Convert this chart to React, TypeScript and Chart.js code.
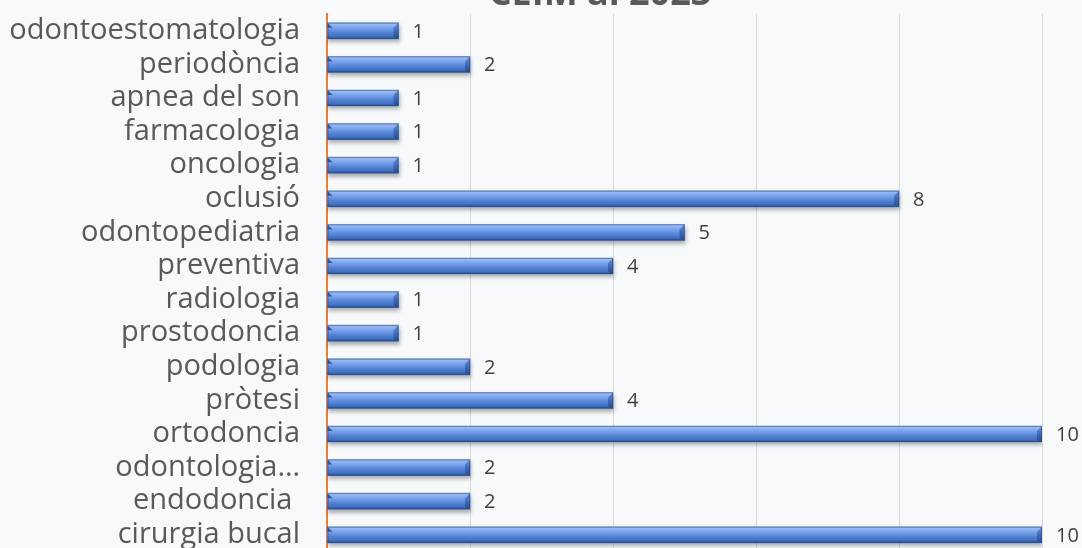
import React, { useEffect, useRef } from "react";
import { Chart, registerables } from "chart.js";

Chart.register(...registerables);

const TITLE = "CEIM al 2023";
const categories = [
  "odontoestomatologia",
  "periodòncia",
  "apnea del son",
  "farmacologia",
  "oncologia",
  "oclusió",
  "odontopediatria",
  "preventiva",
  "radiologia",
  "prostodoncia",
  "podologia",
  "pròtesi",
  "ortodoncia",
  "odontologia…",
  "endodoncia ",
  "cirurgia bucal",
];
const values = [1, 2, 1, 1, 1, 8, 5, 4, 1, 1, 2, 4, 10, 2, 2, 10];
const axisMin = 0;
const axisMax = 10;

const OFFSET = 40;
const W = 1082;
const H = 600;

const barStyle = {
  id: "barStyle",
  beforeDatasetDraw(chart: any) {
    const ctx = chart.ctx;
    ctx.save();
    ctx.shadowColor = "rgba(0,0,0,0.3)";
    ctx.shadowBlur = 4;
    ctx.shadowOffsetX = 1;
    ctx.shadowOffsetY = 3;
  },
  afterDatasetDraw(chart: any) {
    const ctx = chart.ctx;
    ctx.restore();
    const meta = chart.getDatasetMeta(0);
    meta.data.forEach((el: any) => {
      const p = el.getProps(["x", "y", "base", "height"], true);
      const left = Math.min(p.base, p.x);
      const right = Math.max(p.base, p.x);
      const top = p.y - p.height / 2;
      const bottom = p.y + p.height / 2;
      const g = ctx.createLinearGradient(0, top, 0, bottom);
      g.addColorStop(0, "#b3cbf2");
      g.addColorStop(0.12, "#93b6f2");
      g.addColorStop(0.35, "#74a0ea");
      g.addColorStop(0.6, "#5584d6");
      g.addColorStop(0.85, "#4070c0");
      g.addColorStop(1, "#2c4f90");
      ctx.save();
      ctx.fillStyle = g;
      ctx.fillRect(left, top, right - left, bottom - top);
      const b = Math.min(5, (right - left) / 2);
      ctx.fillStyle = "rgba(30,60,130,0.75)";
      ctx.beginPath();
      ctx.moveTo(left, top);
      ctx.lineTo(left + b, top + b);
      ctx.lineTo(left, top + b);
      ctx.closePath();
      ctx.fill();
      const g2 = ctx.createLinearGradient(0, top, 0, bottom);
      g2.addColorStop(0, "#6690d6");
      g2.addColorStop(0.5, "#3f6bba");
      g2.addColorStop(1, "#2a4a85");
      ctx.fillStyle = g2;
      ctx.beginPath();
      ctx.moveTo(right, top);
      ctx.lineTo(right, bottom);
      ctx.lineTo(right - b, bottom - 2);
      ctx.lineTo(right - b, top + b);
      ctx.closePath();
      ctx.fill();
      ctx.strokeStyle = "rgba(40,70,130,0.55)";
      ctx.lineWidth = 1;
      ctx.strokeRect(left + 0.5, top + 0.5, right - left - 1, bottom - top - 1);
      ctx.restore();
    });
  },
  afterDatasetsDraw(chart: any) {
    const ctx = chart.ctx;
    const meta = chart.getDatasetMeta(0);
    ctx.save();
    ctx.font = '20px "Open Sans"';
    ctx.fillStyle = "#404040";
    ctx.textAlign = "left";
    ctx.textBaseline = "middle";
    meta.data.forEach((el: any, i: number) => {
      const p = el.getProps(["x", "y"], true);
      ctx.fillText(String(values[i]), p.x + 14, p.y + 1);
    });
    ctx.restore();
  },
  afterDraw(chart: any) {
    const ctx = chart.ctx;
    ctx.save();
    ctx.font = 'bold 36px "Open Sans"';
    ctx.fillStyle = "#595959";
    ctx.textAlign = "center";
    ctx.textBaseline = "alphabetic";
    ctx.fillText(TITLE, 600, OFFSET + 5);
    ctx.restore();
  },
};

export default function App() {
  const ref = useRef<HTMLCanvasElement>(null);
  useEffect(() => {
    if (!ref.current) return;
    const chart = new Chart(ref.current, {
      type: "bar",
      data: {
        labels: categories,
        datasets: [
          {
            data: values,
            backgroundColor: "#5584d6",
            borderWidth: 0,
            barThickness: 16,
          },
        ],
      },
      options: {
        indexAxis: "y",
        responsive: false,
        animation: false,
        layout: { padding: { top: 54, bottom: 8.4, right: 40, left: 0 } },
        plugins: {
          legend: { display: false },
          tooltip: { enabled: false },
          title: { display: false },
        },
        scales: {
          x: {
            min: axisMin,
            max: axisMax,
            ticks: { display: false, stepSize: 2 },
            grid: { color: "#d9d9d9", drawTicks: false, lineWidth: 1 },
            border: { display: false },
            afterFit: (scale: any) => {
              scale.height = 0;
              scale.paddingLeft = 0;
              scale.paddingRight = 0;
            },
          },
          y: {
            ticks: {
              color: "#595959",
              font: { family: "Open Sans", size: 29 },
              padding: 27,
              autoSkip: false,
            },
            grid: { display: false, drawTicks: false },
            border: { display: true, color: "#ed7d31", width: 2 },
            afterFit: (scale: any) => {
              scale.width = 327;
              scale.paddingTop = 0;
              scale.paddingBottom = 0;
            },
          },
        },
      },
      plugins: [barStyle],
    });
    return () => chart.destroy();
  }, []);
  return (
    <div
      style={{
        position: "fixed",
        left: 0,
        top: 0,
        width: W,
        height: 548,
        overflow: "hidden",
        background: "#f8f9fb",
      }}
    >
      <div style={{ position: "absolute", left: 0, top: -OFFSET, width: W, height: H }}>
        <canvas ref={ref} width={W} height={H} />
      </div>
    </div>
  );
}
